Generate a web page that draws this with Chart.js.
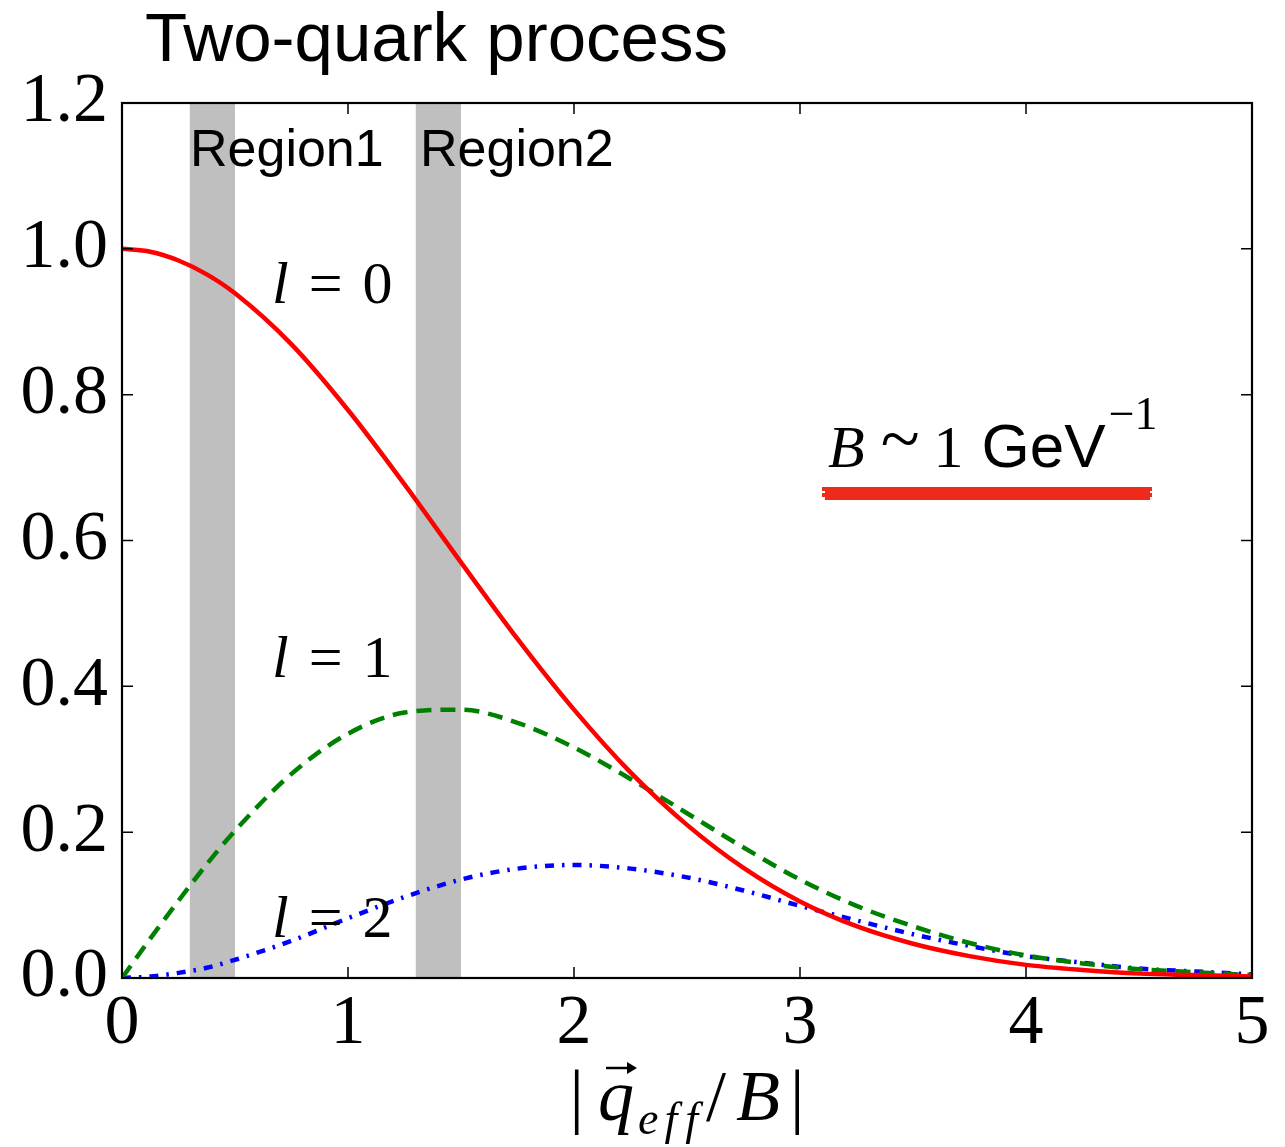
<!DOCTYPE html>
<html>
<head>
<meta charset="utf-8">
<script src="https://cdn.jsdelivr.net/npm/chart.js@4.4.1/dist/chart.umd.min.js"></script>
<style>
html,body{margin:0;padding:0;background:#fff;}
#wrap{width:1285px;height:1147px;position:relative;}
</style>
</head>
<body>
<div id="wrap"><canvas id="c" width="1285" height="1147"></canvas></div>
<script>
// ---- data ----
const xValues  = [0,0.125,0.25,0.375,0.5,0.75,1,1.25,1.5,1.75,2,2.25,2.5,2.75,3,3.25,3.5,3.75,4,4.25,4.5,4.75,5];
const l0Values = [1.000,0.996,0.984,0.965,0.939,0.869,0.779,0.677,0.570,0.465,0.368,0.282,0.210,0.151,0.105,0.071,0.047,0.030,0.018,0.011,0.006,0.004,0.002];
const l1Values = [0.000,0.054,0.106,0.156,0.202,0.280,0.335,0.364,0.368,0.350,0.316,0.273,0.226,0.179,0.135,0.099,0.071,0.048,0.031,0.020,0.012,0.008,0.004];
const l2Values = [0.000,0.002,0.007,0.014,0.025,0.051,0.082,0.111,0.135,0.150,0.155,0.150,0.138,0.120,0.099,0.079,0.060,0.044,0.030,0.021,0.013,0.009,0.005];
const seriesNames = ['l = 0','l = 1','l = 2'];
const regionNames = ['Region1','Region2'];
const regionStart = [0.3,1.3];
const regionEnd   = [0.5,1.5];
const titleText = 'Two-quark process';

function pts(ys){ return xValues.map((x,i)=>({x:x,y:ys[i]})); }

const SERIF = '"Liberation Serif","DejaVu Serif",serif';
const SANS  = '"Liberation Sans","DejaVu Sans",sans-serif';

function runText(ctx, parts, x, y){
  // parts: [text, font, dy, gapAfter]
  let cx = x;
  parts.forEach(p=>{
    ctx.font = p[1];
    ctx.fillText(p[0], cx, y + (p[2]||0));
    cx += ctx.measureText(p[0]).width + (p[3]||0);
  });
  return cx;
}
function runWidth(ctx, parts){
  let w=0; parts.forEach(p=>{ctx.font=p[1]; w+=ctx.measureText(p[0]).width+(p[3]||0);}); return w;
}

const deco = {
  id:'deco',
  beforeDatasetsDraw(chart){
    const {ctx, chartArea:a, scales:{x}} = chart;
    ctx.save();
    ctx.fillStyle = '#bfbfbf';
    for(let i=0;i<regionStart.length;i++){
      const x0 = x.getPixelForValue(regionStart[i]);
      const x1 = x.getPixelForValue(regionEnd[i]);
      ctx.fillRect(x0, a.top, x1-x0, a.bottom-a.top);
    }
    ctx.restore();
  },
  afterDatasetsDraw(chart){
    const {ctx, chartArea:a, scales:{x,y}} = chart;
    ctx.save();
    // frame
    ctx.strokeStyle = '#000';
    ctx.lineWidth = 2.2;
    ctx.strokeRect(a.left, a.top, a.right-a.left, a.bottom-a.top);
    // inward ticks
    ctx.lineWidth = 1.5;
    ctx.beginPath();
    for(let v=0; v<=5; v++){
      const px = x.getPixelForValue(v);
      ctx.moveTo(px, a.bottom); ctx.lineTo(px, a.bottom-11);
      ctx.moveTo(px, a.top); ctx.lineTo(px, a.top+11);
    }
    for(let k=0; k<=6; k++){
      const py = y.getPixelForValue(k*0.2);
      ctx.moveTo(a.left, py); ctx.lineTo(a.left+11, py);
      ctx.moveTo(a.right, py); ctx.lineTo(a.right-11, py);
    }
    ctx.stroke();

    ctx.fillStyle = '#000';
    ctx.textBaseline = 'alphabetic';
    ctx.textAlign = 'left';
    // title
    ctx.font = '69px ' + SANS;
    ctx.fillText(titleText, 145, 61);
    // region labels
    ctx.font = '52px ' + SANS;
    ctx.fillText(regionNames[0], 190, 166);
    ctx.fillText(regionNames[1], 420, 166);
    // l labels
    const lf = 'italic 60px ' + SERIF, nf = '60px ' + SERIF;
    const lBase = [303, 677, 937];
    for(let i=0;i<3;i++){
      const parts = seriesNames[i].split(' ');
      runText(ctx, [[parts[0], lf, 0, 20],[parts[1], nf, 0, 20],[parts[2], nf]], 272, lBase[i]);
    }
    // B ~ 1 GeV^-1
    runText(ctx, [['B', 'italic 60px '+SERIF, 0, 16],['~', '72px '+SERIF, -4, 14],['1', '60px '+SERIF, 0, 18],['GeV','62px '+SANS, 0, 3],['\u22121','46px '+SERIF,-38]], 828, 467);
    // red scribble underline
    ctx.strokeStyle = '#ee2a1a';
    ctx.lineCap = 'butt';
    ctx.lineWidth = 4;
    for(let k=0;k<4;k++){
      ctx.beginPath();
      ctx.moveTo(822 + (k%2)*3, 489 + k*3);
      ctx.lineTo(1152 - (k%2)*2, 489 + k*3 + (k===1?1:0));
      ctx.stroke();
    }
    // x axis title |q_eff/B|
    const big = '72px '+SERIF, bigI = 'italic 72px '+SERIF, subI = 'italic 46px '+SERIF;
    const xt = [['|', big, 0, 14],['q', bigI, 0, 4],['e', subI, 14, 6],['f', subI, 14, 8],['f', subI, 14, 8],['/', big, 0, 10],['B', bigI, 0, 10],['|', big]];
    const w = runWidth(ctx, xt);
    const cx = (a.left + a.right)/2;
    const sx = cx - w/2;
    runText(ctx, xt, sx, 1120);
    // arrow over q
    ctx.font = big; const bw = ctx.measureText('|').width + 14;
    const qx = sx + bw + 8;
    ctx.strokeStyle = '#000'; ctx.lineWidth = 2.5;
    ctx.beginPath(); ctx.moveTo(qx, 1068); ctx.lineTo(qx+26, 1068); ctx.stroke();
    ctx.beginPath(); ctx.moveTo(qx+31, 1068); ctx.lineTo(qx+21, 1062); ctx.lineTo(qx+21, 1074); ctx.closePath(); ctx.fill();
    ctx.restore();
  }
};

new Chart(document.getElementById('c'), {
  type:'line',
  data:{
    datasets:[
      {label:seriesNames[0], data:pts(l0Values), borderColor:'#ff0000', borderWidth:4.5, pointRadius:0, cubicInterpolationMode:'monotone', fill:false},
      {label:seriesNames[1], data:pts(l1Values), borderColor:'#008000', borderWidth:4.5, borderDash:[15,9], pointRadius:0, cubicInterpolationMode:'monotone', fill:false},
      {label:seriesNames[2], data:pts(l2Values), borderColor:'#0000ff', borderWidth:4.5, borderDash:[9,8,2.5,8], pointRadius:0, cubicInterpolationMode:'monotone', fill:false}
    ]
  },
  options:{
    responsive:false,
    devicePixelRatio:1,
    animation:false,
    layout:{padding:{top:103,right:33,left:0,bottom:0}},
    plugins:{legend:{display:false},tooltip:{enabled:false},title:{display:false}},
    scales:{
      x:{type:'linear',min:0,max:5,
         ticks:{stepSize:1,font:{family:SERIF,size:70},color:'#000',padding:5,maxRotation:0,callback:v=>String(v)},
         grid:{display:false,drawTicks:false},border:{display:false},
         afterFit(s){s.height=169;}},
      y:{min:0,max:1.2,
         ticks:{stepSize:0.2,font:{family:SERIF,size:70},color:'#000',padding:14,callback:v=>Number(v).toFixed(1)},
         grid:{display:false,drawTicks:false},border:{display:false},
         afterFit(s){s.width=122;}}
    }
  },
  plugins:[deco]
});
</script>
</body>
</html>
